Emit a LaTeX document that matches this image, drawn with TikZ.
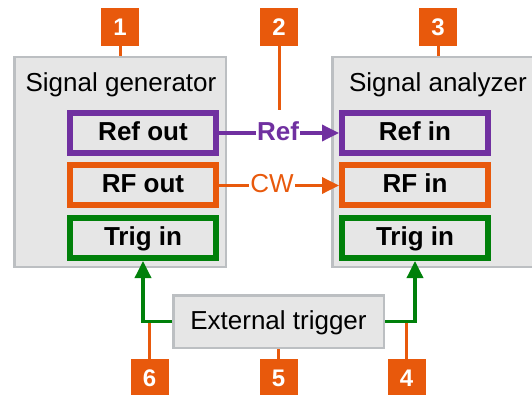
\documentclass[tikz,border=0pt]{standalone}
\usepackage{fontspec}
\setmainfont{Liberation Sans}
\usetikzlibrary{positioning,arrows.meta}
\definecolor{callorange}{HTML}{E8590C}
\definecolor{refpurple}{HTML}{7030A0}
\definecolor{triggreen}{HTML}{00800A}
\definecolor{devfill}{HTML}{E6E6E6}
\definecolor{devdraw}{HTML}{BCBFC2}
\begin{document}
\begin{tikzpicture}[x=1pt,y=-1pt]

% text size
\def\fs{\fontsize{26}{30}\selectfont}
% node style definition
\tikzstyle{device} = [
	draw=devdraw, fill=devfill, line width=2.5pt, rectangle,
	minimum width=211.5pt, minimum height=209.5pt, inner sep=0pt ];
\tikzstyle{port} = [
	draw, fill=devfill, line width=6pt, rectangle,
	minimum width=146pt, minimum height=40pt, inner sep=0pt,
	font=\fs\bfseries, text height=18pt, text depth=3pt ];
\tikzstyle{tag} = [inner xsep=1pt, inner ysep=0pt, text height=18pt, text depth=3pt];
\tikzstyle{callout} = [
	fill=callorange, text=white, minimum size=38pt, inner sep=0pt,
	font=\fontsize{24}{24}\selectfont\bfseries, text height=17pt, text depth=0pt ];
\tikzstyle{lead} = [draw=callorange, line width=3pt];
\tikzstyle{wire} = [line width=3.5pt, -{Triangle[length=17pt,width=16pt]}];

\clip (0,0) rectangle (532,395);

% instruments
\node[device] (gen) at (120,162) {};
\node[device] (ana) at (438,162) {};
\node[font=\fs, anchor=base] (gentitle) at (121,92) {Signal generator};
\node[font=\fs, anchor=base] (anatitle) at (438,92) {Signal analyzer};

\node[port,draw=refpurple] (refout) at (143,133) {Ref out};
\node[port,draw=callorange] (rfout) at (143,185.5) {RF out};
\node[port,draw=triggreen] (gtrig) at (143,238) {Trig in};

\node[port,draw=refpurple] (refin) at (415,133) {Ref in};
\node[port,draw=callorange] (rfin) at (415,185.5) {RF in};
\node[port,draw=triggreen] (atrig) at (415,238) {Trig in};

\node[draw=devdraw, fill=devfill, line width=2.5pt, minimum width=210.5pt,
	minimum height=52.5pt, font=\fs, text height=18pt, text depth=3pt]
	(trig) at (278.5,321.5) {External trigger};

% callouts
\node[callout, above=10pt of gen] (c1) {1};
\node[callout] (c2) at (279,27) {2};
\node[callout, above=10pt of ana] (c3) {3};
\node[callout] (c4) at (406.5,378) {4};
\node[callout, below=10pt of trig] (c5) {5};
\node[callout] (c6) at (149.5,378) {6};

\draw[lead] (c1) -- (gen);
\draw[lead] (c2) -- (c2 |- refout.north);
\draw[lead] (c3) -- (ana);
\draw[lead] (c4) -- (c4 |- trig.east);
\draw[lead] (c5) -- (trig);
\draw[lead] (c6) -- (c6 |- trig.west);

% signals
\node[tag, font=\fs\bfseries, text=refpurple] (ref) at (278,133) {Ref};
\draw[refpurple, line width=3.5pt] (refout) -- (ref);
\draw[wire, refpurple] (ref) -- (refin);

\node[tag, font=\fs, text=callorange] (cw) at (272,185.5) {CW};
\draw[callorange, line width=3.5pt] (rfout) -- (cw);
\draw[wire, callorange] (cw) -- (rfin);

\draw[wire, triggreen] (trig.west) -| (gtrig.south);
\draw[wire, triggreen] (trig.east) -| (atrig.south);

\end{tikzpicture}
\end{document}
